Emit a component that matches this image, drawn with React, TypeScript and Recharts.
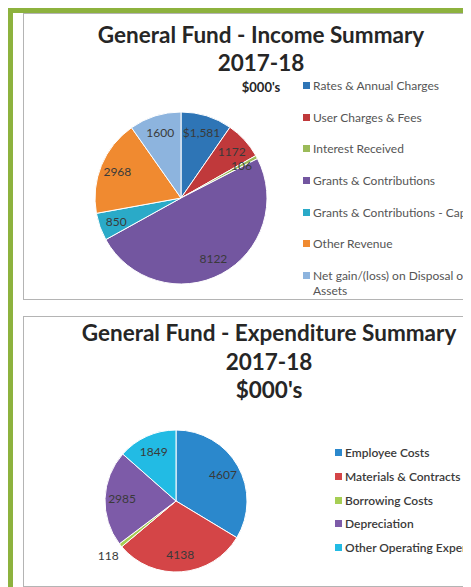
import { PieChart, Pie, Cell, Legend } from "recharts";

const incomeCategories = [
  "Rates & Annual Charges",
  "User Charges & Fees",
  "Interest Received",
  "Grants & Contributions",
  "Grants & Contributions - Capital",
  "Other Revenue",
  "Net gain/(loss) on Disposal of Assets",
];
const incomeValues = [1581, 1172, 106, 8122, 850, 2968, 1600];
const incomeLabels = ["$1,581", "1172", "106", "8122", "850", "2968", "1600"];
const incomeColors = ["#2E75B6", "#C0393B", "#9BBB59", "#7356A0", "#2AAAC8", "#F08A30", "#8DB4DE"];

const expenseCategories = [
  "Employee Costs",
  "Materials & Contracts",
  "Borrowing Costs",
  "Depreciation",
  "Other Operating Expenses",
];
const expenseValues = [4607, 4138, 118, 2985, 1849];
const expenseLabels = ["4607", "4138", "118", "2985", "1849"];
const expenseColors = ["#2B88CC", "#D44547", "#A6CE54", "#7D5BA8", "#22BBE4"];

const FONT = "Lato, 'Open Sans', sans-serif";
const RADIAN = Math.PI / 180;
const NO_MARGIN = { top: 0, right: 0, bottom: 0, left: 0 };

const incomeData = incomeCategories.map((name, i) => ({ name, value: incomeValues[i], label: incomeLabels[i] }));
const expenseData = expenseCategories.map((name, i) => ({ name, value: expenseValues[i], label: expenseLabels[i] }));

const makeLabel = (labels: string[], inside: number, outside: number) => (props: any) => {
  const { cx, cy, midAngle, outerRadius, index, percent } = props;
  const r = outerRadius * (percent < 0.02 && outside > 0 ? outside : inside);
  const x = cx + r * Math.cos(-midAngle * RADIAN);
  const y = cy + r * Math.sin(-midAngle * RADIAN);
  return (
    <text x={x} y={y} fill="#3a3a3a" fontSize={12} fontFamily={FONT} textAnchor="middle" dominantBaseline="central">
      {labels[index]}
    </text>
  );
};

// legend drawn in html so long names can wrap like the excel one
const makeLegend = (names: string[], colors: string[], gap: number, bold: boolean) => () => (
  <div style={{ fontFamily: FONT, fontSize: 12, color: bold ? "#3a3a3a" : "#555", fontWeight: bold ? 600 : 400 }}>
    {names.map((n, i) => (
      <div key={n} style={{ display: "flex", alignItems: "flex-start", height: gap, lineHeight: "15px" }}>
        <span style={{ display: "inline-block", width: 7, height: 7, background: colors[i], marginTop: 4, marginRight: 3, flexShrink: 0 }} />
        <span style={{ width: 165, whiteSpace: n.length > 32 ? "normal" : "nowrap" }}>{n}</span>
      </div>
    ))}
  </div>
);

const titleStyle = (cx: number, cy: number, size: number): React.CSSProperties => ({
  position: "absolute",
  left: cx - 220,
  top: cy - size * 0.62,
  width: 440,
  textAlign: "center",
  fontFamily: FONT,
  fontWeight: 700,
  fontSize: size,
  color: "#262626",
  whiteSpace: "nowrap",
});

export default function App() {
  return (
    <div style={{ position: "relative", width: 463, height: 579, overflow: "hidden", background: "#fff" }}>
      <div style={{ position: "absolute", left: 0, top: 0, width: 463, height: 5, background: "#8DB23E", zIndex: 3 }} />
      <div style={{ position: "absolute", left: 0, top: 0, width: 5, height: 579, background: "#8DB23E", zIndex: 3 }} />

      <div style={{ position: "absolute", left: 15, top: 5, width: 470, height: 285, border: "1px solid #B4B4B4" }} />
      <div style={{ position: "absolute", left: 15, top: 308, width: 470, height: 269, border: "1px solid #B4B4B4" }} />

      <div style={{ position: "absolute", left: 16, top: 5 }}>
        <PieChart width={447} height={286} margin={NO_MARGIN}>
          <Pie
            data={incomeData}
            dataKey="value"
            nameKey="name"
            cx={157}
            cy={185}
            outerRadius={86}
            startAngle={90}
            endAngle={-270}
            stroke="#fff"
            strokeWidth={1}
            labelLine={false}
            label={makeLabel(incomeLabels, 0.8, 0)}
            isAnimationActive={false}
          >
            {incomeData.map((d, i) => (
              <Cell key={d.name} fill={incomeColors[i]} />
            ))}
          </Pie>
          <Legend
            content={makeLegend(incomeCategories, incomeColors, 31.7, false)}
            wrapperStyle={{ position: "absolute", left: 279, top: 65, width: 200 }}
          />
        </PieChart>
      </div>

      <div style={{ position: "absolute", left: 16, top: 308 }}>
        <PieChart width={447} height={270} margin={NO_MARGIN}>
          <Pie
            data={expenseData}
            dataKey="value"
            nameKey="name"
            cx={152}
            cy={185}
            outerRadius={71}
            startAngle={90}
            endAngle={-270}
            stroke="#fff"
            strokeWidth={1}
            labelLine={false}
            label={makeLabel(expenseLabels, 0.76, 1.22)}
            isAnimationActive={false}
          >
            {expenseData.map((d, i) => (
              <Cell key={d.name} fill={expenseColors[i]} />
            ))}
          </Pie>
          <Legend
            content={makeLegend(expenseCategories, expenseColors, 23.8, true)}
            wrapperStyle={{ position: "absolute", left: 311, top: 129, width: 200 }}
          />
        </PieChart>
      </div>

      <div style={titleStyle(253, 27, 22.5)}>General Fund - Income Summary</div>
      <div style={titleStyle(253, 55, 22.5)}>2017-18</div>
      <div style={titleStyle(253, 79, 13)}>$000's</div>

      <div style={titleStyle(261, 325, 22.5)}>General Fund - Expenditure Summary</div>
      <div style={titleStyle(261, 354, 22.5)}>2017-18</div>
      <div style={titleStyle(261, 382, 22.5)}>$000's</div>
    </div>
  );
}
